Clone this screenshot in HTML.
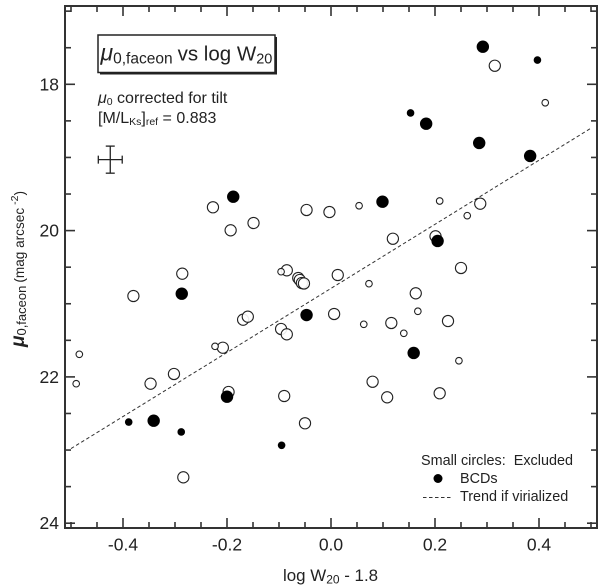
<!DOCTYPE html>
<html>
<head>
<meta charset="utf-8">
<style>
html,body{margin:0;padding:0;background:#fff;}
svg{display:block;font-family:"Liberation Sans",sans-serif;}
text{fill:#222;}
</style>
</head>
<body>
<svg id="chart" width="600" height="588" viewBox="0 0 600 588" xmlns="http://www.w3.org/2000/svg">
  <rect x="0" y="0" width="600" height="588" fill="#fff"/>
  <g id="ticks"></g>
  <g id="trend"></g>
  <g id="points"></g>
  <rect x="65" y="6" width="532" height="522" fill="none" stroke="#333" stroke-width="2"/>
  <g id="labels"></g>
  <g id="errorbar"></g>

  <g>
    <rect x="100" y="37" width="177" height="37.5" fill="#222"/>
    <rect x="98" y="35" width="177" height="37.5" fill="#fff" stroke="#222" stroke-width="1.5"/>
    <text x="100.5" y="60.5" font-size="20.5"><tspan font-style="italic" font-size="23">μ</tspan><tspan font-size="15.5" dy="3">0,faceon</tspan><tspan dy="-3" dx="5">vs log W</tspan><tspan font-size="14.5" dy="3">20</tspan></text>
  </g>
  <text x="98" y="103" font-size="16"><tspan font-style="italic">μ</tspan><tspan font-size="10.5" dy="2">0</tspan><tspan dy="-2"> corrected for tilt</tspan></text>
  <text x="98" y="123" font-size="16">[M/L<tspan font-size="10.5" dy="2">Ks</tspan><tspan dy="-2">]</tspan><tspan font-size="10.5" dy="2">ref</tspan><tspan dy="-2"> = 0.883</tspan></text>

  <text x="283" y="581" font-size="16.9">log W<tspan font-size="12" dy="2.5">20</tspan><tspan dy="-2.5"> - 1.8</tspan></text>
  <text transform="translate(24,347) rotate(-90)" font-size="15"><tspan font-style="italic" font-weight="bold" font-size="19">μ</tspan><tspan font-size="13" dy="2">0,faceon</tspan><tspan dy="-2" dx="3" font-size="13.6">(mag arcsec</tspan><tspan font-size="10.5" dy="-6" dx="3">-2</tspan><tspan dy="6" font-size="13.6">)</tspan></text>

  <g>
    <text x="421" y="465" font-size="14.4" xml:space="preserve">Small circles:  Excluded</text>
    <circle cx="438" cy="478.5" r="4.5" fill="#000"/>
    <text x="460" y="483" font-size="14.4">BCDs</text>
    <line x1="423" y1="497.5" x2="452" y2="497.5" stroke="#333" stroke-width="1" stroke-dasharray="3.5 2.5"/>
    <text x="460" y="501" font-size="14.4">Trend if virialized</text>
  </g>
</svg>
<script>
// Chart data (x = log W20 - 1.8, y = mu_0,faceon)
const xMajorTicks = [-0.4, -0.2, 0.0, 0.2, 0.4];
const xMajorLabels = ["-0.4", "-0.2", "0.0", "0.2", "0.4"];
const xMinorTicks = [-0.5, -0.45, -0.35, -0.3, -0.25, -0.15, -0.1, -0.05, 0.05, 0.1, 0.15, 0.25, 0.3, 0.35, 0.45, 0.5];
const yMajorTicks = [18, 20, 22, 24];
const yMajorLabels = ["18", "20", "22", "24"];
const yMinorTicks = [17, 17.5, 18.5, 19, 19.5, 20.5, 21, 21.5, 22.5, 23, 23.5];

const bcdLargeX = [0.292, 0.183, 0.285, 0.383, -0.188, 0.099, 0.205, -0.287, -0.047, 0.159, -0.2, -0.341];
const bcdLargeY = [17.486, 18.539, 18.802, 18.98, 19.537, 19.605, 20.142, 20.863, 21.154, 21.673, 22.271, 22.599];

const bcdSmallX = [0.397, 0.153, -0.389, -0.288, -0.095];
const bcdSmallY = [17.668, 18.392, 22.617, 22.753, 22.935];

const openLargeX = [0.315, -0.227, -0.193, -0.149, -0.286, -0.38, -0.085, -0.169, -0.16, -0.096, -0.085, -0.208, -0.302, -0.347, -0.197, -0.09, -0.284, -0.063, -0.06, -0.056, -0.052, -0.047, -0.003, 0.287, 0.119, 0.201, 0.25, 0.013, 0.163, 0.006, 0.116, 0.225, 0.08, -0.05, 0.108, 0.209];
const openLargeY = [17.746, 19.681, 19.996, 19.896, 20.589, 20.894, 20.543, 21.218, 21.177, 21.345, 21.418, 21.601, 21.96, 22.093, 22.206, 22.261, 23.373, 20.648, 20.675, 20.716, 20.723, 19.718, 19.746, 19.632, 20.111, 20.078, 20.511, 20.607, 20.857, 21.14, 21.263, 21.236, 22.066, 22.634, 22.279, 22.224];

const openSmallX = [0.412, 0.054, 0.209, 0.262, -0.096, -0.223, -0.484, -0.49, 0.073, 0.167, 0.063, 0.14, 0.246];
const openSmallY = [18.252, 19.66, 19.595, 19.796, 20.562, 21.582, 21.691, 22.093, 20.726, 21.103, 21.281, 21.404, 21.779];

const trendX = [-0.5, 0.5];
const trendY = [22.98, 18.6];

const errorCenterX = [-0.4245];
const errorCenterY = [19.03];
const errorHalfX = [0.023];
const errorHalfY = [0.185];

// Axis functions
function sx(v) { return 331 + v * 520; }
function sy(v) { return 84.3 + (v - 18) * 73.15; }

const NS = "http://www.w3.org/2000/svg";
function make(tag, attrs, parent) {
  const el = document.createElementNS(NS, tag);
  for (const k in attrs) el.setAttribute(k, attrs[k]);
  parent.appendChild(el);
  return el;
}
const tickG = document.getElementById("ticks");
const labelG = document.getElementById("labels");
const tickStyle = { stroke: "#333", "stroke-width": 1.6 };

function xTick(v, len, name) {
  const x = sx(v);
  const a = make("line", Object.assign({ x1: x, x2: x, y1: 528, y2: 528 - len }, tickStyle), tickG);
  
  
  const b = make("line", Object.assign({ x1: x, x2: x, y1: 6, y2: 6 + len }, tickStyle), tickG);
  
  
}
function yTick(v, len, name) {
  const y = sy(v);
  const a = make("line", Object.assign({ x1: 65, x2: 65 + len, y1: y, y2: y }, tickStyle), tickG);
  
  
  const b = make("line", Object.assign({ x1: 597, x2: 597 - len, y1: y, y2: y }, tickStyle), tickG);
  
  
}
xMajorTicks.forEach(function (v) { xTick(v, 10, 'x-major-tick'); });
xMinorTicks.forEach(function (v) { xTick(v, 6, 'x-minor-tick'); });
yMajorTicks.forEach(function (v) { yTick(v, 10, 'y-major-tick'); });
yMinorTicks.forEach(function (v) { yTick(v, 6, 'y-minor-tick'); });

xMajorTicks.forEach(function (v, i) {
  const t = make("text", { x: sx(v), y: 550.5, "text-anchor": "middle", "font-size": 17.5 }, labelG);
  
  
  t.textContent = xMajorLabels[i];
});
yMajorTicks.forEach(function (v, i) {
  const t = make("text", { x: 59, y: sy(v) + 6, "text-anchor": "end", "font-size": 17.5 }, labelG);
  
  
  t.textContent = yMajorLabels[i];
});

// Trend line
const trendLine = make("line", {
  x1: sx(trendX[0]), y1: sy(trendY[0]), x2: sx(trendX[1]), y2: sy(trendY[1]),
  stroke: "#333", "stroke-width": 1, "stroke-dasharray": "3.5 2.5"
}, document.getElementById("trend"));



// Points
const pointG = document.getElementById("points");
function drawOpen(xs, ys, r, name) {
  xs.forEach(function (v, i) {
    const c = make("circle", { cx: sx(v), cy: sy(ys[i]), r: r, fill: "#fff", "fill-opacity": 0.9, stroke: "#222", "stroke-width": 1.1 }, pointG);
    
    
  });
}
function drawFilled(xs, ys, r, name) {
  xs.forEach(function (v, i) {
    const c = make("circle", { cx: sx(v), cy: sy(ys[i]), r: r, fill: "#000" }, pointG);
    
    
  });
}
drawOpen(openLargeX, openLargeY, 5.6, 'galaxy-point');
drawOpen(openSmallX, openSmallY, 3.3, 'excluded-galaxy-point');
drawFilled(bcdLargeX, bcdLargeY, 6.2, 'bcd-point');
drawFilled(bcdSmallX, bcdSmallY, 3.8, 'excluded-bcd-point');

// Error bar
const eg = document.getElementById("errorbar");
const ex = sx(errorCenterX[0]), ey = sy(errorCenterY[0]);
const ex0 = sx(errorCenterX[0] - errorHalfX[0]), ex1 = sx(errorCenterX[0] + errorHalfX[0]);
const ey0 = sy(errorCenterY[0] - errorHalfY[0]), ey1 = sy(errorCenterY[0] + errorHalfY[0]);
const eStyle = { stroke: "#222", "stroke-width": 1.3 };
[[ex0, ey, ex1, ey], [ex, ey0, ex, ey1], [ex0, ey - 4, ex0, ey + 4], [ex1, ey - 4, ex1, ey + 4], [ex - 4.5, ey0, ex + 4.5, ey0], [ex - 4.5, ey1, ex + 4.5, ey1]].forEach(function (s) {
  const l = make("line", Object.assign({ x1: s[0], y1: s[1], x2: s[2], y2: s[3] }, eStyle), eg);
  
  
});
</script>
</body>
</html>
